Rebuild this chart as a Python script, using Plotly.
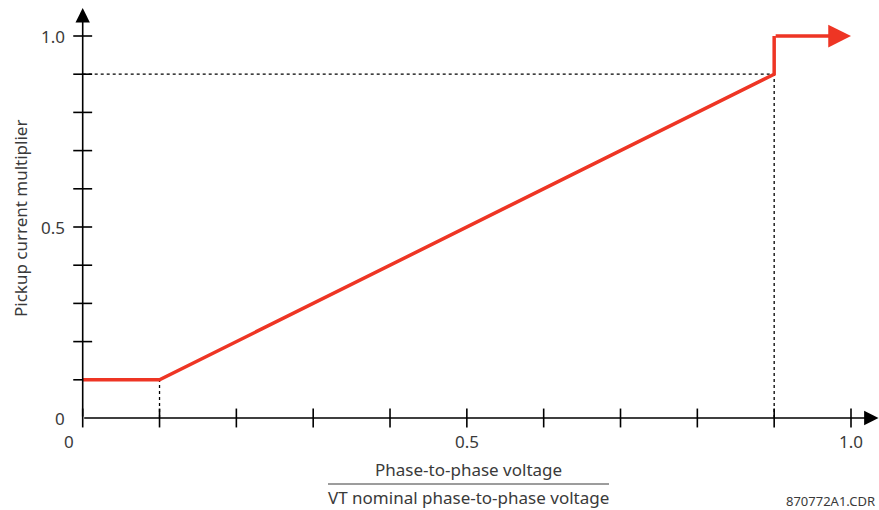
import plotly.graph_objects as go

# ---- data ----
curve_x = [0.0, 0.1, 0.9, 0.9]
curve_y = [0.1, 0.1, 0.9, 1.0]
arrow_end_x = 1.0
arrow_end_y = 1.0

x_ticks = [0.0, 0.1, 0.2, 0.3, 0.4, 0.5, 0.6, 0.7, 0.8, 0.9, 1.0]
y_ticks = [0.1, 0.2, 0.3, 0.4, 0.5, 0.6, 0.7, 0.8, 0.9, 1.0]
x_tick_labels = {0.0: "0", 0.5: "0.5", 1.0: "1.0"}
y_tick_labels = {0.0: "0", 0.5: "0.5", 1.0: "1.0"}

# guide (dotted) lines
guide_h = ([0.0, 0.9], [0.9, 0.9])
guide_v1 = ([0.9, 0.9], [0.0, 0.9])
guide_v2 = ([0.1, 0.1], [0.0, 0.1])

RED = "#EE3524"
TXT = "#3a3a3a"
FONT = "Noto Sans"

W, H = 879, 510
# pixel geometry of the axes
X0PX, X1PX = 82.7, 851.0
Y0PX, Y1PX = 418.0, 36.0
sx = (X1PX - X0PX)
sy = (Y0PX - Y1PX)
xr = [-X0PX / sx, (W - X0PX) / sx]
yr = [-(H - Y0PX) / sy, Y0PX / sy]

fig = go.Figure()

# dotted guides
for gx, gy in (guide_h, guide_v1, guide_v2):
    fig.add_trace(go.Scatter(x=gx, y=gy, mode="lines",
                             line=dict(color="black", width=1.3, dash="dot"),
                             hoverinfo="skip", showlegend=False))

# ticks
fig.add_trace(go.Scatter(x=x_ticks, y=[0] * len(x_ticks), mode="markers",
                         marker=dict(symbol="line-ns", size=13.5,
                                     line=dict(color="black", width=1.6)),
                         hoverinfo="skip", showlegend=False, cliponaxis=False))
fig.add_trace(go.Scatter(x=[0] * len(y_ticks), y=y_ticks, mode="markers",
                         marker=dict(symbol="line-ew", size=13.5,
                                     line=dict(color="black", width=1.6)),
                         hoverinfo="skip", showlegend=False, cliponaxis=False))

# red characteristic
fig.add_trace(go.Scatter(x=curve_x, y=curve_y, mode="lines",
                         line=dict(color=RED, width=3.5),
                         hoverinfo="skip", showlegend=False))

annotations = []
# red arrow final segment
annotations.append(dict(x=arrow_end_x, y=arrow_end_y, xref="x", yref="y",
                        ax=curve_x[-1], ay=curve_y[-1], axref="x", ayref="y",
                        showarrow=True, arrowhead=2, arrowsize=1.3,
                        arrowwidth=3.5, arrowcolor=RED, text="", standoff=0))
# axis arrows
x_tip = (878.5 - X0PX) / sx
y_tip = (Y0PX - 8.0) / sy
annotations.append(dict(x=x_tip, y=0, xref="x", yref="y", ax=0, ay=0,
                        axref="x", ayref="y", showarrow=True, arrowhead=2,
                        arrowsize=1.8, arrowwidth=1.6, arrowcolor="black",
                        text="", standoff=0))
annotations.append(dict(x=0, y=y_tip, xref="x", yref="y", ax=0, ay=0,
                        axref="x", ayref="y", showarrow=True, arrowhead=2,
                        arrowsize=1.8, arrowwidth=1.6, arrowcolor="black",
                        text="", standoff=0))

# tick labels
for v, t in y_tick_labels.items():
    annotations.append(dict(x=0, y=v, xref="x", yref="y", text=t, showarrow=False,
                            xanchor="right", yanchor="middle", xshift=-16,
                            font=dict(family=FONT, size=17, color=TXT)))
for v, t in x_tick_labels.items():
    annotations.append(dict(x=v, y=0, xref="x", yref="y", text=t, showarrow=False,
                            xanchor="center", yanchor="middle", yshift=-23,
                            xshift=(-14 if v == 0 else 0),
                            font=dict(family=FONT, size=17, color=TXT)))

# axis titles
annotations.append(dict(x=468.5 / W, y=1 - 469 / H, xref="paper", yref="paper",
                        text="Phase-to-phase voltage", showarrow=False,
                        xanchor="center", yanchor="middle",
                        font=dict(family=FONT, size=17, color=TXT)))
annotations.append(dict(x=468.5 / W, y=1 - 497 / H, xref="paper", yref="paper",
                        text="VT nominal phase-to-phase voltage", showarrow=False,
                        xanchor="center", yanchor="middle",
                        font=dict(family=FONT, size=17, color=TXT)))
annotations.append(dict(x=20 / W, y=1 - 219 / H, xref="paper", yref="paper",
                        text="Pickup current multiplier", showarrow=False,
                        textangle=-90, xanchor="center", yanchor="middle",
                        font=dict(family=FONT, size=17, color=TXT)))
annotations.append(dict(x=877 / W, y=1 - 501 / H, xref="paper", yref="paper",
                        text="870772A1.CDR", showarrow=False,
                        xanchor="right", yanchor="middle",
                        font=dict(family=FONT, size=13, color=TXT)))

shapes = [dict(type="line", xref="paper", yref="paper",
               x0=328 / W, x1=609 / W, y0=1 - 484 / H, y1=1 - 484 / H,
               line=dict(color=TXT, width=1))]

fig.update_layout(
    width=W, height=H,
    margin=dict(l=0, r=0, t=0, b=0, pad=0),
    paper_bgcolor="white", plot_bgcolor="white",
    xaxis=dict(range=xr, visible=False, fixedrange=True),
    yaxis=dict(range=yr, visible=False, fixedrange=True),
    annotations=annotations, shapes=shapes,
)

fig.write_html("out.html", config={"displayModeBar": False},
               post_script="document.body.style.margin='0px';document.body.style.overflow='hidden';")
